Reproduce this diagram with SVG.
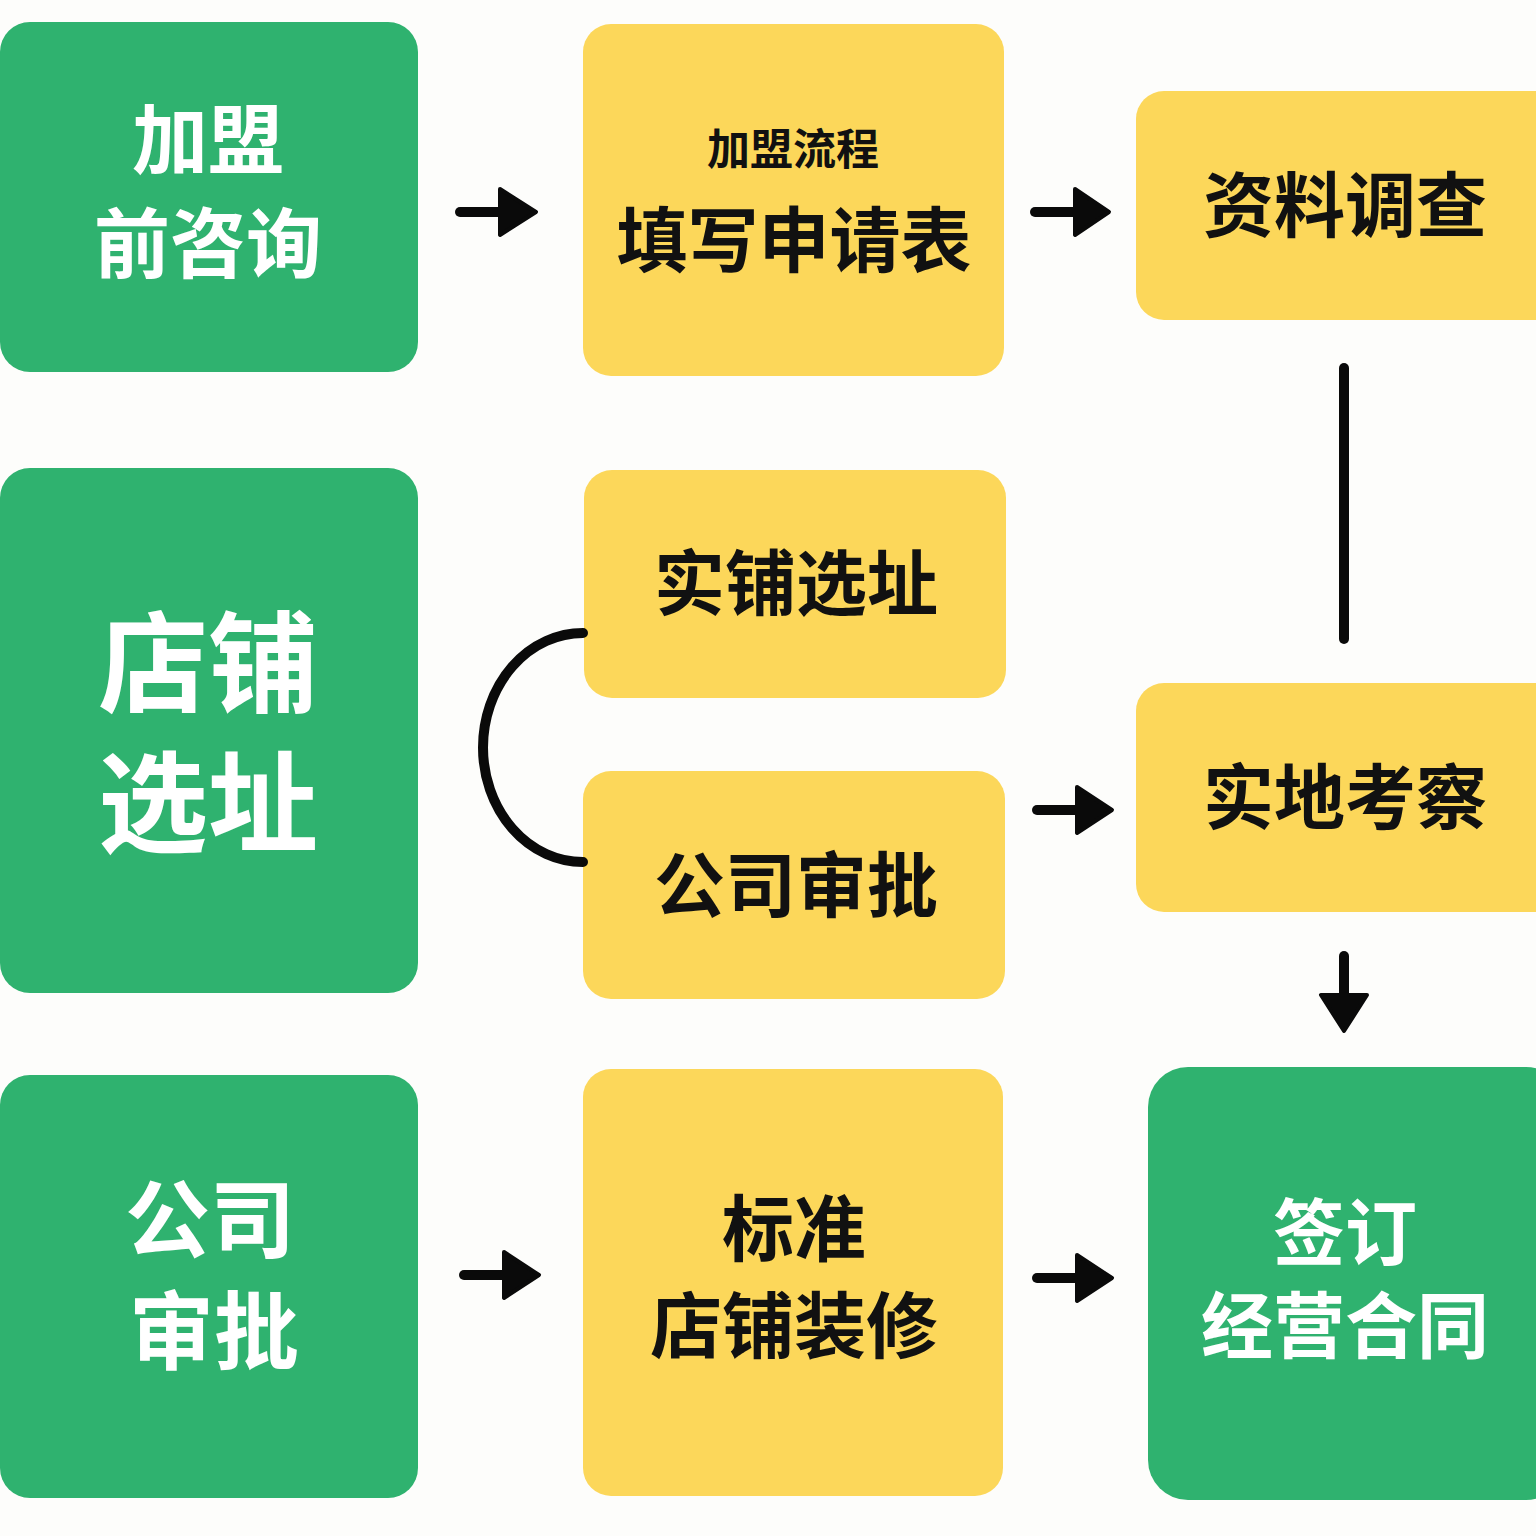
<svg xmlns="http://www.w3.org/2000/svg" width="1536" height="1536" viewBox="0 0 1536 1536">
<defs>
<style>
.g{fill:#2fb26f}
.y{fill:#fcd75a}
.t{font-family:"Noto Sans CJK SC","Noto Sans",sans-serif;font-weight:700;text-anchor:middle;dominant-baseline:central}
.w{fill:#ffffff}
.k{fill:#111111}
.ln{stroke:#0a0a0a;stroke-width:10;stroke-linecap:round;fill:none}
.hd{fill:#0a0a0a;stroke:#0a0a0a;stroke-width:4;stroke-linejoin:round}
</style>
</defs>
<rect width="1536" height="1536" fill="#fdfdfb"/>
<g id="n1"><rect class="g" x="0" y="22" width="418" height="350" rx="30"/>
<text class="t w" x="208" y="135" font-size="76">加盟</text>
<text class="t w" x="208" y="239" font-size="76">前咨询</text></g>
<g id="n2"><rect class="y" x="583" y="24" width="421" height="352" rx="28"/>
<text class="t k" x="793" y="146" font-size="43">加盟流程</text>
<text class="t k" x="794" y="235" font-size="71">填写申请表</text></g>
<g id="n3"><rect class="y" x="1136" y="91" width="430" height="229" rx="28"/>
<text class="t k" x="1345" y="200" font-size="71">资料调查</text></g>
<g id="n4"><rect class="g" x="0" y="468" width="418" height="525" rx="30"/>
<text class="t w" x="208" y="656" font-size="110">店铺</text>
<text class="t w" x="208" y="796" font-size="110">选址</text></g>
<g id="n5"><rect class="y" x="584" y="470" width="422" height="228" rx="28"/>
<text class="t k" x="796" y="578" font-size="71">实铺选址</text></g>
<g id="n6"><rect class="y" x="583" y="771" width="422" height="228" rx="28"/>
<text class="t k" x="796" y="880" font-size="71">公司审批</text></g>
<g id="n7"><rect class="y" x="1136" y="683" width="430" height="229" rx="28"/>
<text class="t k" x="1345" y="792" font-size="71">实地考察</text></g>
<g id="n8"><rect class="g" x="0" y="1075" width="418" height="423" rx="30"/>
<text class="t w" x="210" y="1213" font-size="85">公司</text>
<text class="t w" x="214" y="1325" font-size="85">审批</text></g>
<g id="n9"><rect class="y" x="583" y="1069" width="420" height="427" rx="28"/>
<text class="t k" x="794" y="1223" font-size="72">标准</text>
<text class="t k" x="794" y="1320" font-size="72">店铺装修</text></g>
<g id="n10"><rect class="g" x="1148" y="1067" width="418" height="433" rx="40"/>
<text class="t w" x="1345" y="1227" font-size="72">签订</text>
<text class="t w" x="1345" y="1320" font-size="72">经营合同</text></g>
<g id="connectors">
<line class="ln" x1="460" y1="212" x2="505" y2="212"/><polygon class="hd" points="500,189 536,212 500,235"/>
<line class="ln" x1="1035" y1="212" x2="1080" y2="212"/><polygon class="hd" points="1075,189 1109,212 1075,235"/>
<line class="ln" x1="1344" y1="368" x2="1344" y2="639"/>
<path class="ln" d="M583 633 A100 114.5 0 0 0 583 862" stroke-linecap="butt"/>
<line class="ln" x1="1037" y1="810" x2="1082" y2="810"/><polygon class="hd" points="1077,787 1112,810 1077,833"/>
<line class="ln" x1="1344" y1="956" x2="1344" y2="1000"/><polygon class="hd" points="1321,995 1367,995 1344,1031"/>
<line class="ln" x1="464" y1="1275" x2="509" y2="1275"/><polygon class="hd" points="504,1252 539,1275 504,1298"/>
<line class="ln" x1="1037" y1="1278" x2="1082" y2="1278"/><polygon class="hd" points="1077,1255 1112,1278 1077,1301"/>
</g>
</svg>
